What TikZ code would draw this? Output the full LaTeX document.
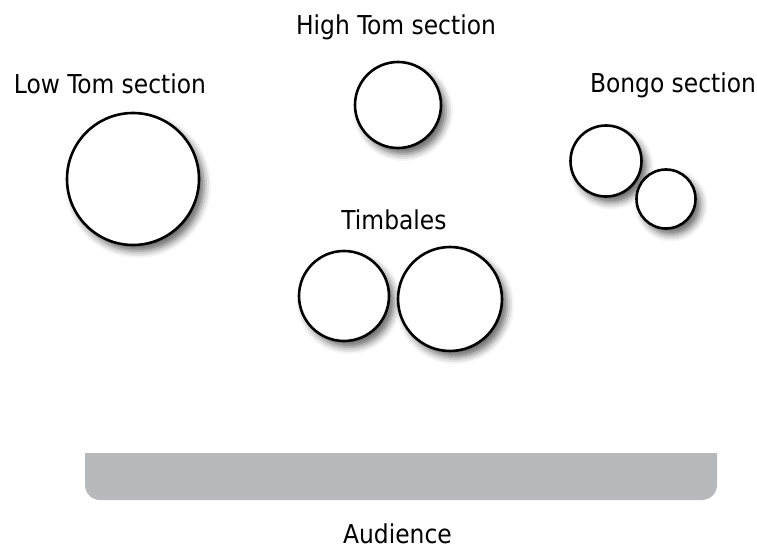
\documentclass[tikz,border=0pt]{standalone}
\usepackage{fontspec}
\setmainfont{DejaVu Sans Condensed}
\usetikzlibrary{shadows.blur}
\tikzset{
  drum/.style={circle, draw=black, line width=2.6pt, fill=white, inner sep=0pt,
    blur shadow={shadow xshift=5pt, shadow yshift=-6pt, shadow blur radius=7pt, shadow opacity=60}},
  lbl/.style={anchor=base, inner sep=0pt, font=\fontsize{26pt}{30pt}\selectfont, text=black}
}
\begin{document}
\begin{tikzpicture}[x=1pt,y=-1pt]
\useasboundingbox (0,0) rectangle (757,548);
% labels
\node[lbl] (lowlbl) at (110,94) {Low Tom section};
\node[lbl] (highlbl) at (396,35) {High Tom section};
\node[lbl] (bongolbl) at (673,93) {Bongo section};
\node[lbl] (timblbl) at (394,229) {Timbales};
\node[lbl] (audlbl) at (397.5,543) {Audience};
% drums
\node[drum, minimum size=132pt] (lowtom) at (133,179) {};
\node[drum, minimum size=86pt] (hightom) at (398,105) {};
\node[drum, minimum size=71pt] (bongoa) at (606,161) {};
\node[drum, minimum size=59pt] (bongob) at (666,199) {};
\node[drum, minimum size=90pt] (timba) at (344,296) {};
\node[drum, minimum size=104pt] (timbb) at (450,299) {};
% stage edge
\fill[fill={rgb,255:red,184;green,185;blue,187}] (85,453) [rounded corners=15pt] -- (85,500) -- (717,500) [sharp corners] -- (717,453) -- cycle;
\end{tikzpicture}
\end{document}
